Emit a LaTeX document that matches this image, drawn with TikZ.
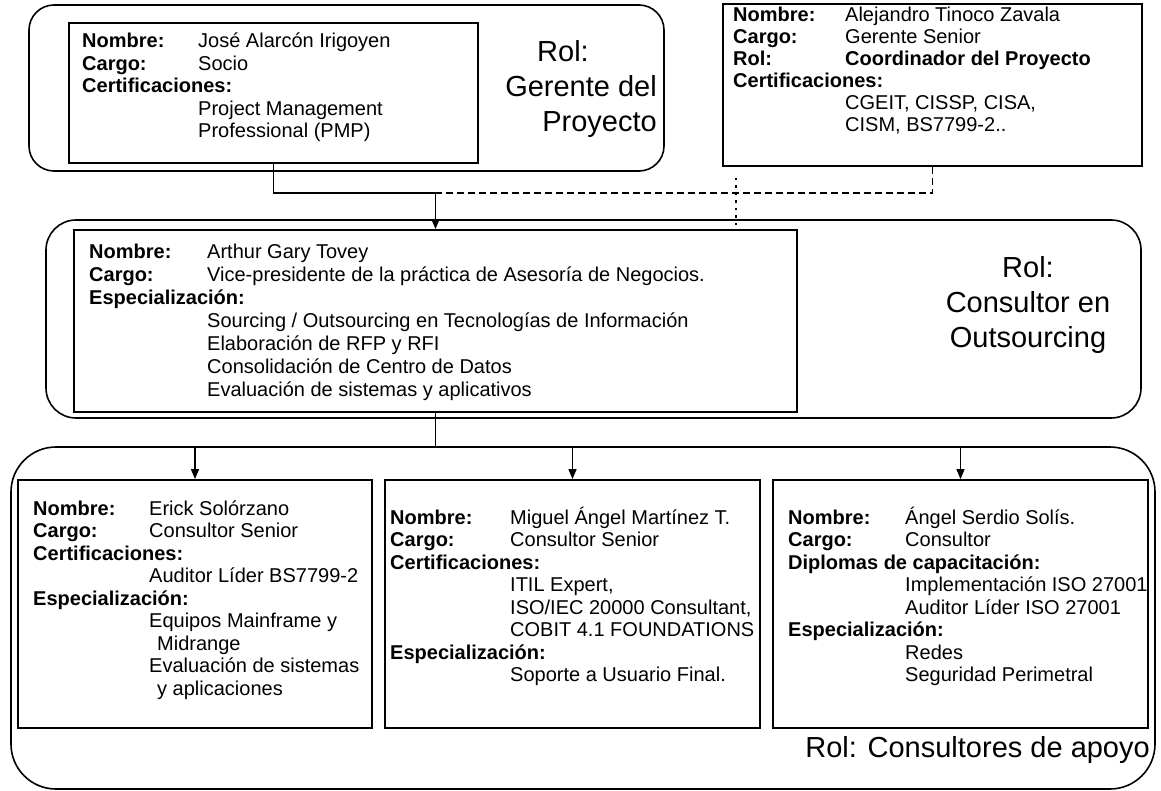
\documentclass[tikz,border=0pt]{standalone}
\usepackage{fontspec}
\setmainfont{Liberation Sans}
\usetikzlibrary{fit,arrows.meta}

% label column of the personal cards
\newlength{\labw}
\newcommand{\lab}[1]{\makebox[\labw][l]{\textbf{#1}}}
\newcommand{\sub}{\hspace*{\labw}}

\begin{document}
\begin{tikzpicture}[x=1pt,y=-1pt,
  grupo/.style={draw, line width=1.6pt, rounded corners=#1, inner sep=0pt},
  grupo/.default=25pt,
  ficha/.style={draw, line width=1.8pt, inner sep=0pt},
  txt/.style={inner sep=0pt, anchor=base west, align=left,
              font=\fontsize{20}{22.5}\selectfont},
  roltxt/.style={inner sep=0pt, font=\fontsize{29}{35}\selectfont},
  conn/.style={line width=1.4pt},
  flecha/.style={conn, -{Triangle[length=10pt,width=8pt]}},
  enlace/.style={conn, dash pattern=on 7pt off 4pt},
  punteado/.style={conn, dash pattern=on 2.5pt off 5pt}]

\fill[white] (0,0) rectangle (1161,791);
\path[use as bounding box] (0,0) rectangle (1161,791);

% ---------- project manager ----------
\node[grupo, fit={(29,5) (664,171)}] (gGerente) {};
\node[ficha, fit={(69,23) (478,163)}] (jose) {};
\setlength{\labw}{116pt}
\node[txt] (joseTxt) at (82,48) {\begin{tabular}[t]{@{}l@{}}
  \lab{Nombre:}José Alarcón Irigoyen\\
  \lab{Cargo:}Socio\\
  \textbf{Certificaciones:}\\
  \sub Project Management\\
  \sub Professional (PMP)
\end{tabular}};
\node[roltxt, anchor=base east] (rolGerente) at (657,62) {\begin{tabular}[t]{@{}r@{}}
  Rol:\hspace*{68pt}\\ Gerente del\\ Proyecto\end{tabular}};

% ---------- project coordinator ----------
\node[ficha, fit={(723,4) (1142,166)}] (alejandro) {};
\setlength{\labw}{112pt}
\node[txt, font=\fontsize{20}{22}\selectfont] (alejandroTxt) at (733,22) {\begin{tabular}[t]{@{}l@{}}
  \lab{Nombre:}Alejandro Tinoco Zavala\\
  \lab{Cargo:}Gerente Senior\\
  \lab{Rol:}\textbf{Coordinador del Proyecto}\\
  \textbf{Certificaciones:}\\
  \sub CGEIT, CISSP, CISA,\\
  \sub CISM, BS7799-2..
\end{tabular}};

% ---------- outsourcing consultant ----------
\node[grupo=30pt, fit={(46,220) (1141,418)}] (gConsultor) {};
\node[ficha, fit={(74,230) (797,412)}] (arthur) {};
\setlength{\labw}{118pt}
\node[txt, font=\fontsize{20}{23}\selectfont] (arthurTxt) at (89,259) {\begin{tabular}[t]{@{}l@{}}
  \lab{Nombre:}Arthur Gary Tovey\\
  \lab{Cargo:}Vice-presidente de la práctica de Asesoría de Negocios.\\
  \textbf{Especialización:}\\
  \sub Sourcing / Outsourcing en Tecnologías de Información\\
  \sub Elaboración de RFP y RFI\\
  \sub Consolidación de Centro de Datos\\
  \sub Evaluación de sistemas y aplicativos
\end{tabular}};
\node[roltxt, anchor=base] (rolConsultor) at (1028,278) {\begin{tabular}[t]{@{}c@{}}
  Rol:\\ Consultor en\\ Outsourcing\end{tabular}};

% ---------- support consultants ----------
\node[grupo=45pt, fit={(11,447) (1155,789)}] (gApoyo) {};
\node[ficha, fit={(18,480) (372,728)}] (erick) {};
\node[ficha, fit={(385,480) (760,728)}] (miguel) {};
\node[ficha, fit={(773,480) (1148,728)}] (angel) {};

\setlength{\labw}{116pt}
\node[txt] (erickTxt) at (33,515) {\begin{tabular}[t]{@{}l@{}}
  \lab{Nombre:}Erick Solórzano\\
  \lab{Cargo:}Consultor Senior\\
  \textbf{Certificaciones:}\\
  \sub Auditor Líder BS7799-2\\
  \textbf{Especialización:}\\
  \sub Equipos Mainframe y\\
  \sub\hspace*{8pt}Midrange\\
  \sub Evaluación de sistemas\\
  \sub\hspace*{8pt}y aplicaciones
\end{tabular}};

\setlength{\labw}{120pt}
\node[txt] (miguelTxt) at (390,524) {\begin{tabular}[t]{@{}l@{}}
  \lab{Nombre:}Miguel Ángel Martínez T.\\
  \lab{Cargo:}Consultor Senior\\
  \textbf{Certificaciones:}\\
  \sub ITIL Expert,\\
  \sub ISO/IEC 20000 Consultant,\\
  \sub COBIT 4.1 FOUNDATIONS\\
  \textbf{Especialización:}\\
  \sub Soporte a Usuario Final.
\end{tabular}};

\setlength{\labw}{117pt}
\node[txt] (angelTxt) at (788,524) {\begin{tabular}[t]{@{}l@{}}
  \lab{Nombre:}Ángel Serdio Solís.\\
  \lab{Cargo:}Consultor\\
  \textbf{Diplomas de capacitación:}\\
  \sub Implementación ISO 27001\\
  \sub Auditor Líder ISO 27001\\
  \textbf{Especialización:}\\
  \sub Redes\\
  \sub Seguridad Perimetral
\end{tabular}};
\node[roltxt, anchor=base east] (rolApoyo) at (1150,757) {Rol: Consultores de apoyo};

% ---------- connectors ----------
\coordinate (busSup) at (arthur.north |- 0,193);
\draw[conn] (jose.south) |- (busSup);
\draw[flecha] (busSup) -- (arthur.north);
\draw[enlace] (alejandro.south) |- (busSup);
\coordinate (marcaA) at (736,178);
\coordinate (marcaB) at (736,226);
\draw[punteado] (marcaA) -- (marcaB);

\coordinate (busInf) at (arthur.south |- 0,447);
\draw[conn] (arthur.south) -- (busInf);
\draw[conn] (erick.north |- busInf) -- (angel.north |- busInf);
\draw[flecha] (erick.north |- busInf) -- (erick.north);
\draw[flecha] (miguel.north |- busInf) -- (miguel.north);
\draw[flecha] (angel.north |- busInf) -- (angel.north);
\end{tikzpicture}
\end{document}
